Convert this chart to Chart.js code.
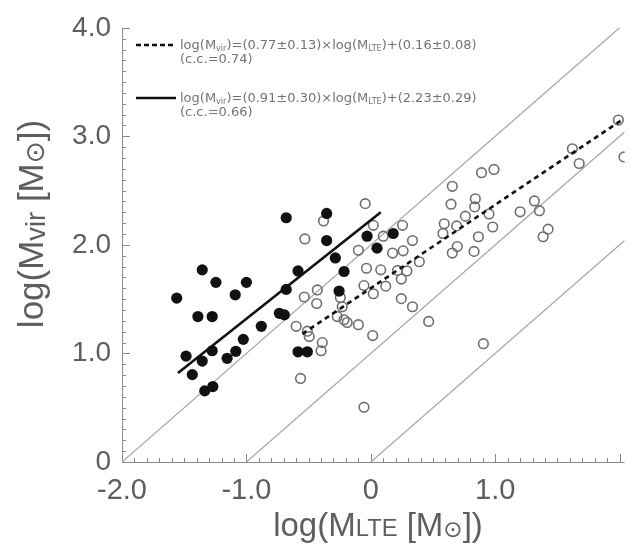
<!DOCTYPE html>
<html>
<head>
<meta charset="UTF-8">
<title>log(Mvir) vs log(MLTE)</title>
<script src="https://cdn.jsdelivr.net/npm/chart.js"></script>
<style>
  html, body { margin: 0; padding: 0; background: #fff; }
  canvas { display: block; }
</style>
</head>
<body>
<canvas id="chart" width="631" height="553"></canvas>
<script>
// [log MLTE, log Mvir]
const filledPoints = [
  [-0.68, 2.25], [-1.355, 1.77], [-1.245, 1.655], [-1.00, 1.655], [-1.09, 1.54],
  [-1.56, 1.51], [-0.68, 1.59], [-1.39, 1.34], [-1.275, 1.34], [-0.88, 1.25],
  [-0.735, 1.37], [-0.695, 1.355], [-1.025, 1.13], [-1.275, 1.025], [-1.085, 1.02],
  [-1.155, 0.955], [-1.485, 0.975], [-1.355, 0.93], [-1.435, 0.805], [-1.335, 0.655],
  [-1.27, 0.695], [-0.355, 2.29], [-0.355, 2.04], [-0.03, 2.08], [0.18, 2.105],
  [0.05, 1.97], [-0.285, 1.88], [-0.585, 1.76], [-0.215, 1.755], [-0.255, 1.575],
  [-0.585, 1.015], [-0.51, 1.015]
];

const openPoints = [
  [-0.53, 2.055], [-0.38, 2.22], [-0.045, 2.38], [0.10, 2.08], [-0.10, 1.95],
  [-0.035, 1.785], [0.08, 1.77], [0.215, 1.765], [0.29, 1.76], [-0.43, 1.585],
  [-0.055, 1.625], [0.12, 1.62], [-0.535, 1.52], [-0.435, 1.46], [-0.245, 1.515],
  [-0.23, 1.43], [0.02, 1.55], [-0.60, 1.25], [-0.51, 1.205], [-0.495, 1.155],
  [-0.27, 1.34], [-0.215, 1.31], [-0.19, 1.285], [-0.10, 1.265], [0.015, 1.165],
  [-0.39, 1.10], [-0.40, 1.025], [-0.565, 0.77], [-0.055, 0.505], [0.89, 2.665],
  [0.99, 2.695], [0.655, 2.54], [0.645, 2.375], [0.84, 2.425], [0.835, 2.35],
  [0.76, 2.265], [0.59, 2.195], [0.58, 2.105], [0.69, 2.175], [0.95, 2.285],
  [0.98, 2.165], [0.865, 2.075], [0.255, 2.18], [0.335, 2.04], [0.26, 1.945],
  [0.175, 1.925], [0.695, 1.985], [0.655, 1.925], [0.83, 1.94], [0.39, 1.845],
  [0.245, 1.685], [0.245, 1.505], [0.335, 1.43], [0.465, 1.295], [0.905, 1.09],
  [1.99, 3.15], [2.035, 2.81], [1.62, 2.885], [1.675, 2.75], [1.315, 2.405],
  [1.20, 2.305], [1.355, 2.315], [1.425, 2.145], [1.385, 2.075], [0.02, 2.18]
];

// fit lines, endpoints [x1, y1, x2, y2]
const dashedFit = [-0.55, 1.18, 2.03, 3.16];
const solidFit = [-1.55, 0.82, 0.08, 2.30];

// Mvir/MLTE = 100, 10, 1 guide lines
const guideLines = [
  [-2, 0, 2, 4],
  [-1, 0, 2.04, 3.04],
  [0, 0, 2.04, 2.04]
];

const xTicks = [-2, -1, 0, 1];
const yTicks = [0, 1, 2, 3, 4];

const legendRows = [
  { dash: true,
    eq: [['log(M', 1], ['vir', 0.62, 2], [')=(0.77±0.13)×log(M', 1], ['LTE', 0.62, 2], [')+(0.16±0.08)', 1]],
    cc: '(c.c.=0.74)' },
  { dash: false,
    eq: [['log(M', 1], ['vir', 0.62, 2], [')=(0.91±0.30)×log(M', 1], ['LTE', 0.62, 2], [')+(2.23±0.29)', 1]],
    cc: '(c.c.=0.66)' }
];

const FONT = '"Liberation Sans", Arial, "DejaVu Sans", sans-serif';
const AXIS_GREY = '#8a8a8a';
const TEXT_GREY = '#5e5e5e';

const toXY = p => ({ x: p[0], y: p[1] });
const seg = s => [{ x: s[0], y: s[1] }, { x: s[2], y: s[3] }];

// draws a run of text pieces [text, relSize, dy]
function richText(ctx, parts, size, x, y, align, family) {
  let w = 0;
  parts.forEach(p => {
    ctx.font = (size * p[1]) + 'px ' + family;
    w += ctx.measureText(p[0]).width;
  });
  let cx = align === 'center' ? x - w / 2 : x;
  parts.forEach(p => {
    ctx.font = (size * p[1]) + 'px ' + family;
    ctx.fillText(p[0], cx, y + (p[2] || 0));
    cx += ctx.measureText(p[0]).width;
  });
}

const decor = {
  id: 'decor',
  beforeDatasetsDraw(chart) {
    const { ctx, chartArea: a, scales: { x, y } } = chart;
    ctx.save();
    ctx.strokeStyle = AXIS_GREY;
    ctx.lineWidth = 1;
    ctx.beginPath();
    ctx.moveTo(a.left + 0.5, a.top);
    ctx.lineTo(a.left + 0.5, a.bottom + 0.5);
    ctx.lineTo(a.right, a.bottom + 0.5);
    // minor / major ticks pointing inward
    for (let i = -20; i <= 20; i++) {
      const px = Math.round(x.getPixelForValue(i / 10)) + 0.5;
      const len = i % 10 === 0 ? 8 : 4;
      ctx.moveTo(px, a.bottom);
      ctx.lineTo(px, a.bottom - len);
    }
    for (let i = 0; i <= 40; i++) {
      const py = Math.round(y.getPixelForValue(i / 10)) + 0.5;
      const len = i % 10 === 0 ? 8 : 4;
      ctx.moveTo(a.left, py);
      ctx.lineTo(a.left + len, py);
    }
    ctx.stroke();
    ctx.restore();
  },
  afterDraw(chart) {
    const { ctx } = chart;
    ctx.save();
    ctx.fillStyle = TEXT_GREY;
    ctx.textBaseline = 'alphabetic';

    // x title
    richText(ctx, [['log(M', 1], ['LTE', 0.72], [' [M', 1], ['⊙', 0.7, 1], ['])', 1]],
      33, 378, 536, 'center', FONT);

    // y title
    ctx.save();
    ctx.translate(43, 224);
    ctx.rotate(-Math.PI / 2);
    richText(ctx, [['log(M', 1], ['vir', 0.78, 2], [' [M', 1], ['⊙', 0.75, 1], ['])', 1]],
      35, 0, 0, 'center', FONT);
    ctx.restore();

    // legend
    const rowsY = [49, 102];
    legendRows.forEach((r, i) => {
      const ly = rowsY[i];
      ctx.save();
      ctx.strokeStyle = '#111';
      ctx.lineWidth = 2.5;
      ctx.setLineDash(r.dash ? [5, 3] : []);
      ctx.beginPath();
      ctx.moveTo(136, ly - 4);
      ctx.lineTo(176, ly - 4);
      ctx.stroke();
      ctx.restore();
      ctx.fillStyle = '#737373';
      richText(ctx, r.eq, 13, 180, ly, 'left', '"DejaVu Sans", sans-serif');
      ctx.font = '13px "DejaVu Sans", sans-serif';
      ctx.fillText(r.cc, 180, ly + 14);
    });
    ctx.restore();
  }
};

const lineSet = (pts, width, dash, color) => ({
  type: 'scatter',
  data: pts,
  showLine: true,
  borderColor: color,
  borderWidth: width,
  borderDash: dash,
  pointRadius: 0,
  fill: false
});

new Chart(document.getElementById('chart'), {
  type: 'scatter',
  data: {
    datasets: [
      lineSet(seg(dashedFit), 2.6, [5, 4], '#111'),
      lineSet(seg(solidFit), 2.6, [], '#111'),
      {
        data: filledPoints.map(toXY),
        pointRadius: 5.6,
        pointBackgroundColor: '#111',
        pointBorderColor: '#111',
        pointBorderWidth: 0
      },
      {
        data: openPoints.map(toXY),
        pointRadius: 4.8,
        pointBackgroundColor: 'rgba(255,255,255,0)',
        pointBorderColor: '#6e6e6e',
        pointBorderWidth: 1.6
      },
      ...guideLines.map(g => lineSet(seg(g), 1.2, [], '#a6a6a6'))
    ]
  },
  options: {
    responsive: false,
    animation: false,
    layout: { padding: { top: 17, right: 0, left: 0, bottom: 0 } },
    plugins: { legend: { display: false }, tooltip: { enabled: false } },
    scales: {
      x: {
        type: 'linear', min: -2, max: 2.04,
        afterBuildTicks: s => { s.ticks = xTicks.map(v => ({ value: v })); },
        ticks: {
          padding: 12, color: TEXT_GREY, maxRotation: 0,
          font: { family: FONT, size: 29 },
          callback: v => (v === 0 ? '0' : v.toFixed(1))
        },
        grid: { display: false, drawTicks: false },
        border: { display: false },
        afterFit: s => { s.height = 91; }
      },
      y: {
        type: 'linear', min: 0, max: 4,
        afterBuildTicks: s => { s.ticks = yTicks.map(v => ({ value: v })); },
        ticks: {
          padding: 11, color: TEXT_GREY,
          font: { family: FONT, size: 28 },
          callback: v => (v === 0 ? '0' : v.toFixed(1))
        },
        grid: { display: false, drawTicks: false },
        border: { display: false },
        afterFit: s => { s.width = 122; }
      }
    }
  },
  plugins: [decor]
});
</script>
</body>
</html>
